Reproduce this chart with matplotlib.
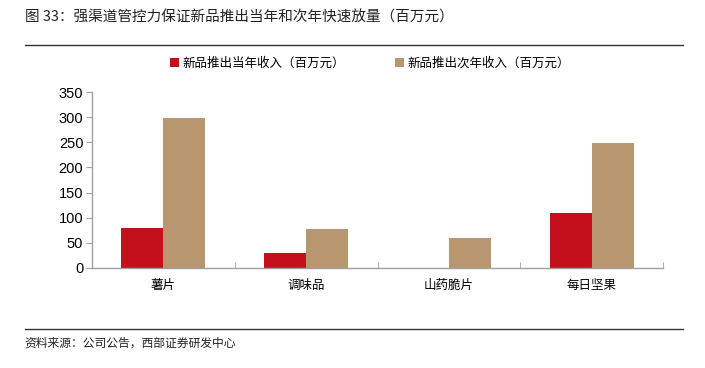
import matplotlib
matplotlib.use("Agg")
import matplotlib.pyplot as plt
import numpy as np
from matplotlib.patches import Rectangle

plt.rcParams['font.family'] = ['Noto Sans CJK SC', 'DejaVu Sans']

categories = ['薯片', '调味品', '山药脆片', '每日坚果']
current_year = [79, 30, 0, 110]
next_year = [299, 77, 60, 248]
series_names = ['新品推出当年收入（百万元）', '新品推出次年收入（百万元）']
yticks = [0, 50, 100, 150, 200, 250, 300, 350]
title = '图 33：强渠道管控力保证新品推出当年和次年快速放量（百万元）'
source = '资料来源：公司公告，西部证券研发中心'

red = '#C40F1C'
tan = '#B89670'

fig = plt.figure(figsize=(7.05, 3.68), dpi=100)
ax = fig.add_axes([0.130, 0.2726, 0.811, 0.4766])

x = np.arange(len(categories))
w = 0.293
ax.bar(x - w / 2, current_year, width=w, color=red, label=series_names[0])
ax.bar(x + w / 2, next_year, width=w, color=tan, label=series_names[1])

ax.set_xlim(-0.5, len(categories) - 0.5)
ax.set_ylim(0, 350)
ax.set_yticks(yticks)
ax.set_yticklabels([str(v) for v in yticks], family='Liberation Sans', fontsize=10.5)
ax.set_xticks(x)
ax.set_xticklabels(categories, fontsize=9)
ax.tick_params(axis='x', length=0, pad=8)
ax.set_xticks(np.arange(len(categories) + 1) - 0.5, minor=True)
ax.tick_params(axis='x', which='minor', direction='in', length=4, color='#A0A0A0')
ax.tick_params(axis='y', direction='out', length=4, color='#A0A0A0', pad=2)

for s in ['top', 'right']:
    ax.spines[s].set_visible(False)
for s in ['left', 'bottom']:
    ax.spines[s].set_color('#A0A0A0')
    ax.spines[s].set_linewidth(1.0)

leg = fig.legend(loc='center', bbox_to_anchor=(0.525, 0.828), ncol=2, frameon=False,
                 fontsize=9, handlelength=0.7, handleheight=0.7, handletextpad=0.3,
                 columnspacing=4.0)

fig.text(0.035, 0.952, title, fontsize=10.5, va='center', ha='left', color='#222222')
fig.add_artist(plt.Line2D([0.035, 0.969], [0.878, 0.878], color='#333333', lw=1.0, transform=fig.transFigure))
fig.add_artist(plt.Line2D([0.035, 0.969], [0.106, 0.106], color='#333333', lw=1.0, transform=fig.transFigure))
fig.text(0.035, 0.068, source, fontsize=8.5, va='center', ha='left', color='#222222')

fig.savefig('out.png', dpi=100)
